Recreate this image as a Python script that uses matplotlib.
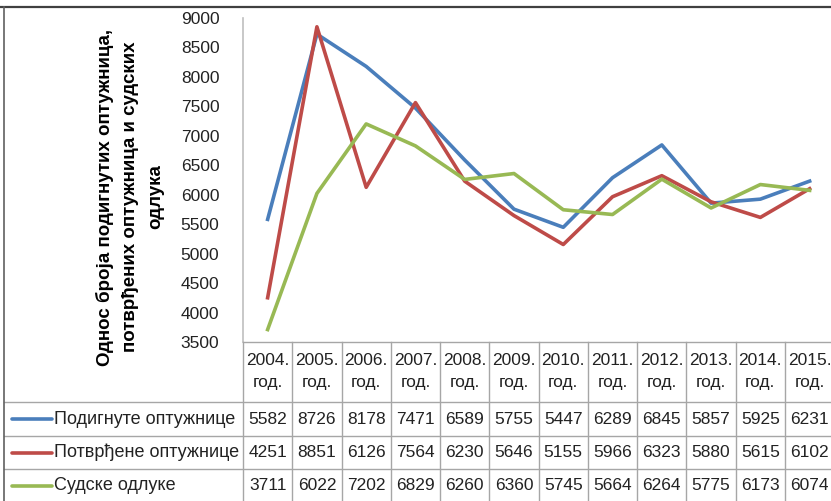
import matplotlib
matplotlib.use('Agg')
import matplotlib.pyplot as plt
from matplotlib.lines import Line2D

# data
years = ['2004.', '2005.', '2006.', '2007.', '2008.', '2009.',
         '2010.', '2011.', '2012.', '2013.', '2014.', '2015.']
podignute = [5582, 8726, 8178, 7471, 6589, 5755, 5447, 6289, 6845, 5857, 5925, 6231]
potvrdjene = [4251, 8851, 6126, 7564, 6230, 5646, 5155, 5966, 6323, 5880, 5615, 6102]
sudske = [3711, 6022, 7202, 6829, 6260, 6360, 5745, 5664, 6264, 5775, 6173, 6074]
names = ['Подигнуте оптужнице', 'Потврђене оптужнице', 'Судске одлуке']
colors = ['#4a7ebb', '#be4b48', '#98b954']
series = [podignute, potvrdjene, sudske]
ylabel = 'Однос броја подигнутих оптужница,\nпотврђених оптужница и судских\nодлука'

plt.rcParams['font.family'] = ['Liberation Sans', 'DejaVu Sans']

W, H = 831, 501
fig = plt.figure(figsize=(W / 100, H / 100), dpi=100)

# pixel layout
x0 = 243                 # y axis position
col_w = (785 - 243) / 11  # width of one year column
axis_y = 342             # x axis / top of table
top_y = 18

ax = fig.add_axes([x0 / W, (H - axis_y) / H, 12 * col_w / W, (axis_y - top_y) / H])
for vals, c in zip(series, colors):
    ax.plot(range(len(years)), vals, color=c, lw=2.6)
ax.set_xlim(-0.5, 11.5)
ax.set_ylim(3500, 9000)
ax.set_yticks(range(3500, 9001, 500))
ax.set_xticks([])
for s in ['top', 'right', 'bottom']:
    ax.spines[s].set_visible(False)
ax.spines['left'].set_color('#bfbfbf')
ax.spines['left'].set_linewidth(1.2)
ax.tick_params(axis='y', length=0, pad=17, labelsize=12.5, labelcolor='#222222')

fig.text(130 / W, 1 - 197 / H, ylabel, rotation=90, ha='center', va='center',
         fontsize=13.5, fontweight='bold', linespacing=1.6, multialignment='center')

# data table under the chart
tab = fig.add_axes([0, 0, 1, (H - axis_y) / H])
tab.set_xlim(-0.5 - x0 / col_w, -0.5 + (W - x0) / col_w)
tab.set_ylim(H - axis_y, 0)
tab.axis('off')


def px2x(px):
    return -0.5 + (px - x0) / col_w


grid = '#a6a6a6'
left = px2x(4)
right = px2x(W + 5)
tab.plot([-0.5, right], [0, 0], color=grid, lw=1, clip_on=False)
for yy in [59.5, 94, 127]:
    tab.plot([left, right], [yy, yy], color=grid, lw=1, clip_on=False)
for i in range(len(years) + 1):
    tab.plot([i - 0.5, i - 0.5], [0, H - axis_y], color=grid, lw=1, clip_on=False)

for i, y in enumerate(years):
    tab.text(i, 29.5, y + '\nгод.', ha='center', va='center', fontsize=12.5,
             linespacing=1.55, color='#222222')

row_c = [77, 110.5, 143.5]
for r, (name, vals, c) in enumerate(zip(names, series, colors)):
    tab.plot([px2x(12), px2x(52)], [row_c[r], row_c[r]], color=c, lw=2.6,
             solid_capstyle='round')
    tab.text(px2x(54), row_c[r], name, ha='left', va='center', fontsize=13,
             color='#222222')
    for i, v in enumerate(vals):
        tab.text(i, row_c[r], str(v), ha='center', va='center', fontsize=12.5,
                 color='#222222')

# outer chart border (top and left visible)
fig.add_artist(Line2D([0, 1], [1 - 7 / H, 1 - 7 / H], color='#404040', lw=1.6))
fig.add_artist(Line2D([4 / W, 4 / W], [0, 1 - 7 / H], color='#606060', lw=1.2))

fig.savefig('out.png', dpi=100)
